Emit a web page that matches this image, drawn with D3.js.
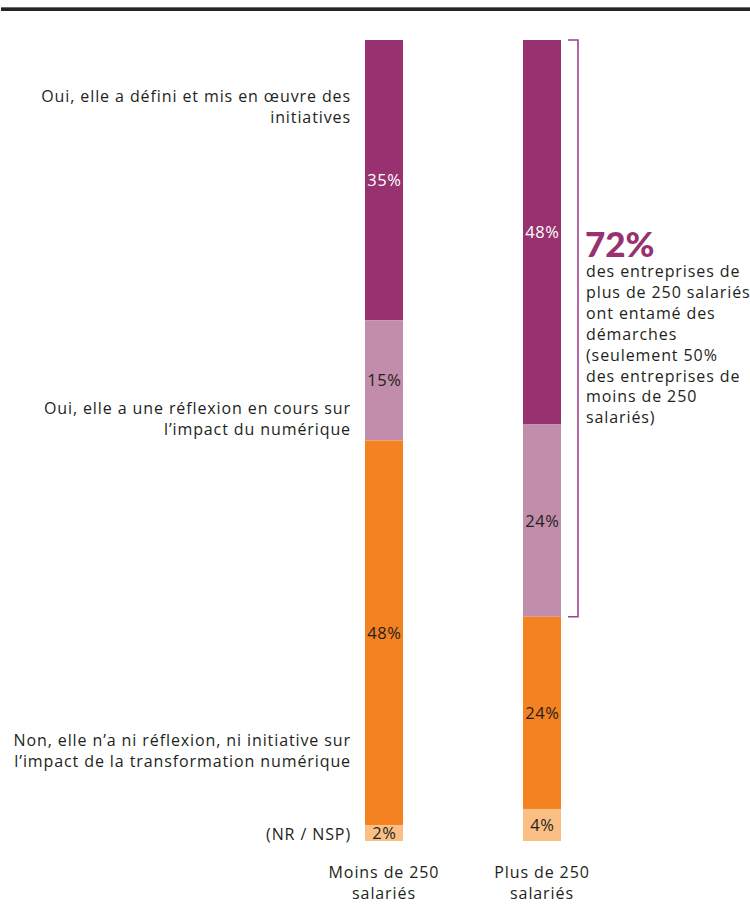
<!DOCTYPE html>
<html lang="fr">
<head>
<meta charset="utf-8">
<script src="https://cdn.jsdelivr.net/npm/d3@7/dist/d3.min.js"></script>
<style>
  html, body { margin: 0; padding: 0; background: #fff; }
  svg { display: block; }
  text { font-family: "Open Sans", "DejaVu Sans", sans-serif; fill: #231f20; }
</style>
</head>
<body>
<div id="chart"></div>
<script>
// Survey answers: has the company started work on the impact of digital transformation?
const groups = ["Moins de 250 salariés", "Plus de 250 salariés"];
const groupLines = [["Moins de 250", "salariés"], ["Plus de 250", "salariés"]];
const categories = [
  "Oui, elle a défini et mis en œuvre des initiatives",
  "Oui, elle a une réflexion en cours sur l’impact du numérique",
  "Non, elle n’a ni réflexion, ni initiative sur l’impact de la transformation numérique",
  "(NR / NSP)"
];
const categoryLines = [
  ["Oui, elle a défini et mis en œuvre des", "initiatives"],
  ["Oui, elle a une réflexion en cours sur", "l’impact du numérique"],
  ["Non, elle n’a ni réflexion, ni initiative sur", "l’impact de la transformation numérique"],
  ["(NR / NSP)"]
];
const valuesSmall = [35, 15, 48, 2];
const valuesLarge = [48, 24, 24, 4];
const highlightValue = "72%";
const highlightLines = [
  "des entreprises de",
  "plus de 250 salariés",
  "ont entamé des",
  "démarches",
  "(seulement 50%",
  "des entreprises de",
  "moins de 250",
  "salariés)"
];

const W = 750, H = 904;
const colors = ["#97316f", "#c28dab", "#f58220", "#fbbf85"];
const labelColors = ["#ffffff", "#231f20", "#231f20", "#231f20"];
const barW = 38;
const fontSize = 16, tracking = 0.9, lineGap = 21;

const svg = d3.select("#chart").append("svg")
  .attr("width", W).attr("height", H);

// heavy rule across the top
svg.append("rect").attr("x", 1).attr("y", 7).attr("width", W - 1).attr("height", 4).attr("fill", "#262425");
svg.append("rect").attr("x", 1).attr("y", 7).attr("width", W - 1).attr("height", 1).attr("fill", "#6d6b6c");

const x = d3.scalePoint().domain(groups).range([384, 542]);
const y = d3.scaleLinear().domain([0, 100]).range([40, 841]);

// stack each group's values top-down
const series = [valuesSmall, valuesLarge].map((vals, gi) => {
  let acc = 0;
  return vals.map((v, ci) => {
    const s = { group: groups[gi], cat: ci, v, y0: acc, y1: acc + v };
    acc += v;
    return s;
  });
});
const segs = series.flat();

svg.append("g").selectAll("rect").data(segs).join("rect")
  .attr("x", d => x(d.group) - barW / 2)
  .attr("y", d => y(d.y0))
  .attr("width", barW)
  .attr("height", d => y(d.y1) - y(d.y0))
  .attr("fill", d => colors[d.cat]);

svg.append("g").selectAll("text").data(segs).join("text")
  .attr("x", d => x(d.group) + 0.4)
  .attr("y", d => Math.min((y(d.y0) + y(d.y1)) / 2 + 6, 841))
  .attr("text-anchor", "middle")
  .attr("font-size", 16.5)
  .attr("letter-spacing", 0.6)
  .style("fill", d => labelColors[d.cat])
  .text(d => d.v + "%");

// category labels to the left of the first bar
const labelTop = [102, 414, 746, 840];
const catG = svg.append("g");
categoryLines.forEach((lines, i) => {
  const t = catG.append("text")
    .attr("x", 351)
    .attr("y", labelTop[i])
    .attr("text-anchor", "end")
    .attr("font-size", fontSize)
    .attr("letter-spacing", tracking);
  lines.forEach((l, j) => {
    t.append("tspan").attr("x", 351).attr("dy", j === 0 ? 0 : lineGap).text(l);
  });
});

// group labels under the bars
groupLines.forEach((lines, i) => {
  const t = svg.append("text")
    .attr("x", x(groups[i]))
    .attr("y", 878)
    .attr("text-anchor", "middle")
    .attr("font-size", fontSize)
    .attr("letter-spacing", tracking);
  lines.forEach((l, j) => {
    t.append("tspan").attr("x", x(groups[i])).attr("dy", j === 0 ? 0 : 21).text(l);
  });
});

// bracket spanning the two "Oui" segments of the large-company bar
const bx = x(groups[1]) + barW / 2 + 17;
const bTop = y(0), bBot = y(valuesLarge[0] + valuesLarge[1]);
svg.append("path")
  .attr("d", `M${bx - 10},${bTop} H${bx} V${bBot} H${bx - 10}`)
  .attr("fill", "none")
  .attr("stroke", "#a3418a")
  .attr("stroke-width", 1.6);

svg.append("text")
  .attr("x", 585)
  .attr("y", 257)
  .attr("font-size", 35)
  .attr("font-weight", 900)
  .style("font-family", "Lato, 'Open Sans', sans-serif")
  .style("fill", "#97316f")
  .text(highlightValue);

const note = svg.append("text")
  .attr("x", 586)
  .attr("y", 277)
  .attr("font-size", fontSize)
  .attr("letter-spacing", tracking);
highlightLines.forEach((l, j) => {
  note.append("tspan").attr("x", 586).attr("dy", j === 0 ? 0 : 20.9).text(l);
});
</script>
</body>
</html>
